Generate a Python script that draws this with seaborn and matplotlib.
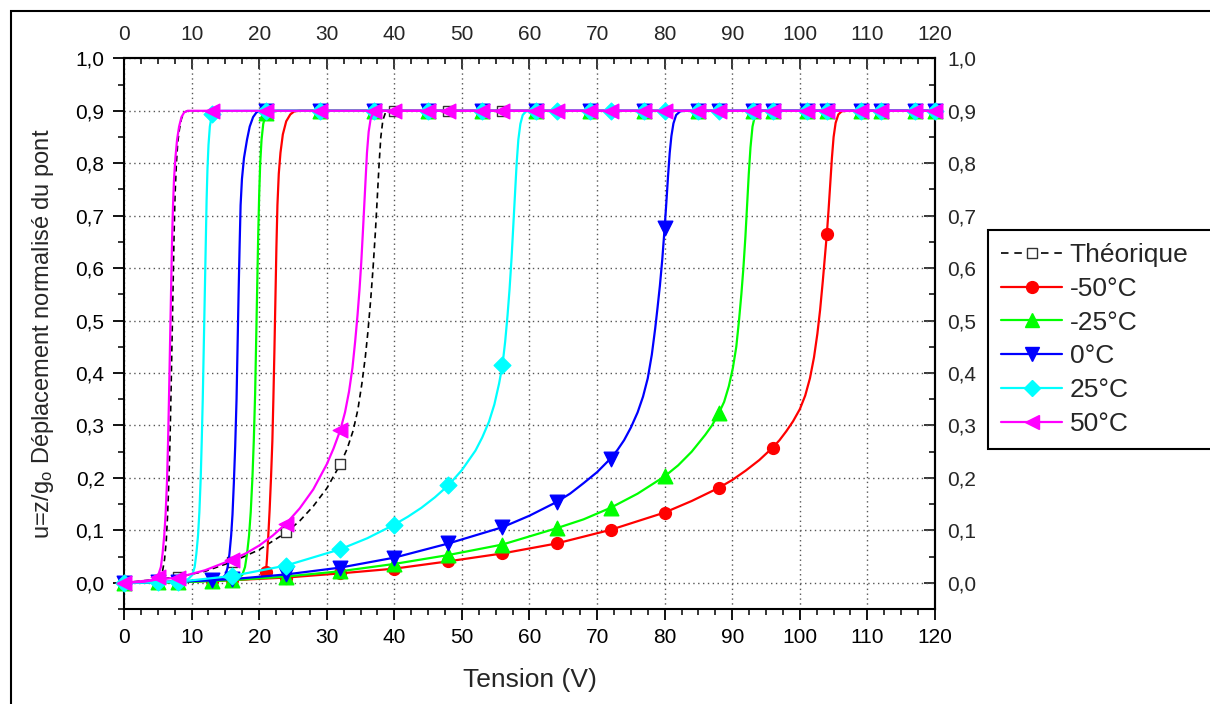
import numpy as np
import matplotlib
matplotlib.use('Agg')
import matplotlib.pyplot as plt
from matplotlib.lines import Line2D
from matplotlib.patches import Rectangle
from matplotlib.ticker import MultipleLocator
import seaborn as sns

# marker positions (V) on the rising sweep and on the falling sweep
V_UP_MARKS = [0, 8, 16, 24, 32, 40, 48, 56, 64, 72, 80, 88, 96, 104, 112, 120]
V_DOWN_MARKS = [5, 13, 21, 29, 37, 45, 53, 61, 69, 77, 85, 93, 101, 109, 117]

X_TICKS = [0, 10, 20, 30, 40, 50, 60, 70, 80, 90, 100, 110, 120]
Y_TICKS = [0.0, 0.1, 0.2, 0.3, 0.4, 0.5, 0.6, 0.7, 0.8, 0.9, 1.0]
Y_TICK_LABELS = ['0,0', '0,1', '0,2', '0,3', '0,4', '0,5', '0,6', '0,7', '0,8', '0,9', '1,0']

# Théorique
THEO_UP_V = [0, 8, 12, 16, 20, 24, 26, 28, 30, 32, 33, 33.9, 34.6, 35.2, 35.7, 36.1, 36.5, 36.85,
             37.2, 37.5, 37.75, 38.0, 38.3, 38.7, 39.3, 40, 48, 56]
THEO_UP_U = [0, 0.011, 0.022, 0.04, 0.063, 0.096, 0.118, 0.146, 0.18, 0.226, 0.255, 0.29, 0.33, 0.38,
             0.43, 0.48, 0.54, 0.6, 0.67, 0.74, 0.8, 0.85, 0.882, 0.897, 0.9, 0.9, 0.9, 0.9]
THEO_DOWN_V = [39.3, 20, 9.4, 8.9, 8.5, 8.2, 7.95, 7.75, 7.55, 7.4, 7.25, 7.1, 6.95, 6.8, 6.65, 6.45,
               6.25, 6.0, 5.7, 5.3, 4.5, 3, 0]
THEO_DOWN_U = [0.9, 0.9, 0.9, 0.897, 0.885, 0.865, 0.84, 0.8, 0.74, 0.66, 0.56, 0.46, 0.36, 0.27, 0.2,
               0.13, 0.08, 0.045, 0.022, 0.01, 0.004, 0.002, 0]

# -50°C
RED_UP_V = [0, 8, 16, 24, 32, 40, 48, 56, 64, 72, 80, 84, 88, 90, 92, 94, 96, 97, 98, 99, 100, 100.8,
            101.5, 102.1, 102.6, 103.0, 103.4, 103.7, 104, 104.25, 104.5, 104.75, 105.0, 105.3, 105.7,
            106.2, 107, 112, 120]
RED_UP_U = [0, 0.002, 0.005, 0.010, 0.018, 0.027, 0.041, 0.056, 0.075, 0.101, 0.134, 0.156, 0.181,
            0.196, 0.214, 0.234, 0.258, 0.272, 0.289, 0.308, 0.331, 0.357, 0.39, 0.43, 0.475, 0.52,
            0.575, 0.62, 0.665, 0.71, 0.76, 0.81, 0.85, 0.877, 0.893, 0.899, 0.9, 0.9, 0.9]
RED_DOWN_V = [120, 117, 109, 101, 93, 85, 77, 69, 61, 53, 45, 37, 29, 26, 25.2, 24.6, 24.0, 23.5, 23.15,
              22.9, 22.7, 22.55, 22.4, 22.25, 22.1, 21.95, 21.75, 21.55, 21.35, 21.15, 21, 20.6, 19,
              17, 13, 9, 5, 0]
RED_DOWN_U = [0.9] * 14 + [0.899, 0.893, 0.88, 0.855, 0.82, 0.78, 0.72, 0.64, 0.54, 0.44, 0.35, 0.27,
                           0.2, 0.14, 0.09, 0.045, 0.02, 0.012, 0.008, 0.006, 0.004, 0.002, 0.001, 0]

# -25°C
GRN_UP_V = [0, 8, 16, 24, 32, 40, 48, 56, 64, 68, 72, 76, 80, 82, 84, 86, 87, 88, 88.8, 89.5, 90.1,
            90.6, 91.0, 91.35, 91.65, 91.95, 92.2, 92.45, 92.7, 93.0, 93.35, 93.8, 94.5, 96, 104, 112, 120]
GRN_UP_U = [0, 0.001, 0.005, 0.012, 0.022, 0.036, 0.053, 0.073, 0.104, 0.121, 0.143, 0.17, 0.203,
            0.224, 0.25, 0.282, 0.30, 0.323, 0.345, 0.375, 0.41, 0.45, 0.5, 0.55, 0.6, 0.66, 0.72, 0.78,
            0.83, 0.87, 0.89, 0.899, 0.9, 0.9, 0.9, 0.9, 0.9]
GRN_DOWN_V = [120, 117, 109, 101, 93, 85, 77, 69, 61, 53, 45, 37, 29, 22.8, 22.0, 21.0, 20.6, 20.35,
              20.15, 20.0, 19.85, 19.7, 19.55, 19.4, 19.2, 19.0, 18.75, 18.5, 18.2, 17.9, 17.5, 16.8,
              13, 9, 5, 0]
GRN_DOWN_U = [0.9] * 14 + [0.899, 0.895, 0.875, 0.845, 0.8, 0.74, 0.66, 0.56, 0.46, 0.36, 0.27, 0.2,
                           0.135, 0.09, 0.055, 0.03, 0.015, 0.008, 0.004, 0.002, 0.001, 0]

# 0°C
BLU_UP_V = [0, 8, 16, 24, 32, 40, 48, 56, 60, 64, 66, 68, 70, 72, 73, 74, 75, 76, 76.8, 77.5, 78.1,
            78.6, 78.95, 79.3, 79.65, 80, 80.25, 80.5, 80.75, 81.0, 81.3, 81.7, 82.3, 83, 88, 96, 104,
            112, 120]
BLU_UP_U = [0, 0.002, 0.007, 0.016, 0.029, 0.048, 0.075, 0.106, 0.128, 0.154, 0.17, 0.19, 0.211, 0.237,
            0.253, 0.272, 0.296, 0.325, 0.355, 0.39, 0.435, 0.485, 0.525, 0.567, 0.617, 0.677, 0.725,
            0.775, 0.82, 0.852, 0.876, 0.892, 0.899, 0.9, 0.9, 0.9, 0.9, 0.9, 0.9]
BLU_DOWN_V = [120, 117, 109, 101, 93, 85, 77, 69, 61, 53, 45, 37, 29, 21, 20.2, 19.6, 19.1, 18.6, 18.2,
              17.75, 17.45, 17.25, 17.1, 16.95, 16.8, 16.65, 16.45, 16.25, 16.05, 15.85, 15.6, 15.35,
              15.0, 14.5, 13, 9, 5, 0]
BLU_DOWN_U = [0.9] * 15 + [0.897, 0.888, 0.87, 0.845, 0.81, 0.77, 0.72, 0.64, 0.55, 0.45, 0.35, 0.26,
                           0.19, 0.13, 0.09, 0.055, 0.03, 0.015, 0.008, 0.005, 0.003, 0.001, 0]

# 25°C
CYN_UP_V = [0, 8, 16, 24, 32, 36, 40, 42, 44, 46, 48, 50, 52, 53, 54, 54.8, 55.5, 56, 56.4, 56.75,
            57.05, 57.35, 57.6, 57.85, 58.1, 58.35, 58.65, 59, 59.5, 60.2, 64, 72, 80, 88, 96, 104,
            112, 120]
CYN_UP_U = [0, 0.002, 0.013, 0.033, 0.064, 0.085, 0.111, 0.126, 0.143, 0.163, 0.186, 0.215, 0.252,
            0.277, 0.307, 0.34, 0.38, 0.415, 0.46, 0.51, 0.56, 0.62, 0.68, 0.74, 0.8, 0.845, 0.875,
            0.892, 0.899] + [0.9] * 9
CYN_DOWN_V = [120, 117, 109, 101, 93, 85, 77, 69, 61, 53, 45, 37, 29, 21, 14.5, 13.8, 13.0, 12.7,
              12.5, 12.35, 12.22, 12.1, 11.95, 11.8, 11.65, 11.5, 11.35, 11.15, 10.95, 10.7, 10.45,
              10.1, 9.5, 8, 5, 0]
CYN_DOWN_U = [0.9] * 15 + [0.899, 0.893, 0.87, 0.835, 0.79, 0.73, 0.65, 0.55, 0.45, 0.35, 0.27, 0.2,
                           0.135, 0.09, 0.055, 0.03, 0.015, 0.007, 0.003, 0.001, 0]

# 50°C
MAG_UP_V = [0, 8, 12, 16, 18, 20, 22, 24, 26, 28, 30, 31, 32, 32.7, 33.3, 33.8, 34.2, 34.55, 34.85,
            35.1, 35.35, 35.55, 35.75, 35.95, 36.2, 36.5, 36.9, 37.5, 40, 48, 56, 64, 72, 80, 88, 96,
            104, 112, 120]
MAG_UP_U = [0, 0.01, 0.024, 0.044, 0.056, 0.071, 0.09, 0.113, 0.142, 0.178, 0.226, 0.256, 0.291, 0.325,
            0.365, 0.41, 0.46, 0.51, 0.56, 0.61, 0.67, 0.72, 0.77, 0.82, 0.86, 0.885, 0.897] + [0.9] * 12
MAG_DOWN_V = [120, 117, 109, 101, 93, 85, 77, 69, 61, 53, 45, 37, 29, 21, 13, 9.4, 8.9, 8.5, 8.15,
              7.85, 7.6, 7.4, 7.25, 7.1, 6.95, 6.8, 6.65, 6.5, 6.35, 6.15, 5.95, 5.7, 5.45, 5.0, 4.3,
              3, 0]
MAG_DOWN_U = [0.9] * 16 + [0.897, 0.888, 0.87, 0.845, 0.81, 0.77, 0.72, 0.65, 0.55, 0.45, 0.35, 0.26,
                           0.19, 0.13, 0.09, 0.055, 0.03, 0.012, 0.005, 0.002, 0]

# label, colour, marker, marker size, up curve, down curve, marks on the down curve
SERIES = [
    ('Théorique', 'black', 's', 7, THEO_UP_V, THEO_UP_U, THEO_DOWN_V, THEO_DOWN_U, []),
    ('-50°C', '#FF0000', 'o', 8.5, RED_UP_V, RED_UP_U, RED_DOWN_V, RED_DOWN_U, V_DOWN_MARKS),
    ('-25°C', '#00FF00', '^', 10.5, GRN_UP_V, GRN_UP_U, GRN_DOWN_V, GRN_DOWN_U, V_DOWN_MARKS),
    ('0°C', '#0000FF', 'v', 10.5, BLU_UP_V, BLU_UP_U, BLU_DOWN_V, BLU_DOWN_U, V_DOWN_MARKS),
    ('25°C', '#00FFFF', 'D', 8.5, CYN_UP_V, CYN_UP_U, CYN_DOWN_V, CYN_DOWN_U, V_DOWN_MARKS),
    ('50°C', '#FF00FF', '<', 10.5, MAG_UP_V, MAG_UP_U, MAG_DOWN_V, MAG_DOWN_U, V_DOWN_MARKS),
]

sns.set_style('ticks')
plt.rcParams['font.family'] = ['Liberation Sans', 'DejaVu Sans']
plt.rcParams['mathtext.default'] = 'regular'

fig = plt.figure(figsize=(12.1, 7.04), dpi=100)
ax = fig.add_axes([0.1025, 0.1349, 0.6702, 0.7822])

handles = []
for i, (label, color, mk, ms, up_v, up_u, dn_v, dn_u, dn_marks) in enumerate(SERIES):
    z = 3 + 2 * i
    theo = label == 'Théorique'
    ls = (0, (3.5, 2.5)) if theo else '-'
    lw = 1.2 if theo else 1.6
    face = 'white' if theo else color
    edge = '#333333' if theo else color
    for xs, ys in [(up_v, up_u), (dn_v, dn_u)]:
        sns.lineplot(x=xs, y=ys, sort=False, estimator=None, color=color, lw=lw,
                     linestyle=ls, ax=ax, zorder=z, legend=False)
    up_v, up_u = np.array(up_v), np.array(up_u)
    dn_v, dn_u = np.array(dn_v), np.array(dn_u)
    m_up = np.isin(up_v, V_UP_MARKS)
    m_dn = np.isin(dn_v, dn_marks)
    mx = np.concatenate([up_v[m_up], dn_v[m_dn]])
    my = np.concatenate([up_u[m_up], dn_u[m_dn]])
    sns.scatterplot(x=mx, y=my, marker=mk, s=ms ** 2, color=face, edgecolor=edge,
                    linewidth=1.0, ax=ax, zorder=z + 1, clip_on=False, legend=False)
    handles.append(Line2D([], [], color=color, lw=lw, linestyle=(0, (4.5, 3.5)) if theo else '-',
                          marker=mk, markersize=ms, markerfacecolor=face,
                          markeredgecolor=edge, label=label))

ax.set_xlim(0, 120)
ax.set_ylim(-0.05, 1.0)
ax.set_xticks(X_TICKS)
ax.set_yticks(Y_TICKS)
ax.set_yticklabels(Y_TICK_LABELS)
ax.xaxis.set_minor_locator(MultipleLocator(2.5))
ax.yaxis.set_minor_locator(MultipleLocator(0.05))
ax.grid(True, which='major', color='#555555', linestyle=(0, (1, 2.5)), lw=1.0)
ax.set_axisbelow(True)
for sp in ax.spines.values():
    sp.set_linewidth(1.5)
    sp.set_color('black')
    sp.set_visible(True)
ax.tick_params(which='major', direction='out', length=8, width=1.3, labelsize=15, pad=6, colors='black')
ax.tick_params(which='minor', direction='out', length=4.5, width=1.3)

top = ax.secondary_xaxis('top')
top.set_xticks(X_TICKS)
top.xaxis.set_minor_locator(MultipleLocator(2.5))
top.tick_params(which='major', direction='in', length=8, width=1.3, labelsize=15, pad=10)
top.tick_params(which='minor', direction='in', length=4.5, width=1.3)
top.spines['top'].set_linewidth(1.5)

right = ax.secondary_yaxis('right')
right.set_yticks(Y_TICKS)
right.set_yticklabels(Y_TICK_LABELS)
right.yaxis.set_minor_locator(MultipleLocator(0.05))
right.tick_params(which='major', direction='in', length=8, width=1.3, labelsize=15, pad=9)
right.tick_params(which='minor', direction='in', length=4.5, width=1.3)
right.spines['right'].set_linewidth(1.5)

ax.set_xlabel('Tension (V)', fontsize=19, labelpad=15)
ax.set_ylabel('u=z/g$_o$ Déplacement normalisé du pont', fontsize=17, labelpad=14)

leg = fig.legend(handles=handles, loc='upper left',
                 bbox_to_anchor=(988 / 1210, 1 - 449 / 704, 0.25, (449 - 230) / 704),
                 mode='expand', borderaxespad=0, fontsize=19, handlelength=2.3,
                 handletextpad=0.3, labelspacing=0.37, borderpad=0.5, fancybox=False,
                 framealpha=1, edgecolor='black')
leg.get_frame().set_linewidth(1.5)

fig.patches.append(Rectangle((11 / 1210, -0.1), 1.2, 1 - 11 / 704 + 0.1, transform=fig.transFigure,
                             fill=False, edgecolor='black', lw=1.5))

fig.savefig('out.png', dpi=100)
